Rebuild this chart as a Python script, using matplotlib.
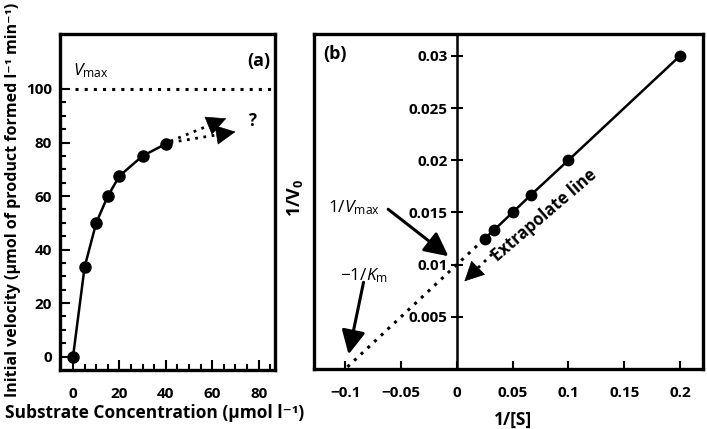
import matplotlib
matplotlib.use("Agg")
import matplotlib.pyplot as plt
from matplotlib.ticker import FixedLocator
from matplotlib.lines import Line2D

plt.rcParams['font.family'] = ['Open Sans', 'DejaVu Sans']
plt.rcParams['mathtext.fontset'] = 'custom'
plt.rcParams['mathtext.rm'] = 'Open Sans'
plt.rcParams['mathtext.it'] = 'Open Sans:italic'
plt.rcParams['mathtext.bf'] = 'Open Sans:bold'

# (a) Michaelis-Menten data
substrate = [0, 5, 10, 15, 20, 30, 40]
velocity = [0, 33.5, 50, 60, 67.5, 75, 79.5]
vmax = 100

# (b) Lineweaver-Burk data
inv_s = [0.025, 0.0333, 0.05, 0.0667, 0.1, 0.2]
inv_v = [0.0125, 0.0133, 0.015, 0.0167, 0.02, 0.03]
extrap_x = [-0.098, 0.025]
extrap_y = [0.0002, 0.0125]

DOT = (0, (1, 2))


def dotted_arrow(ax, start, end, frac=0.8):
    # dotted shaft + solid filled head
    mid = (start[0] + frac * (end[0] - start[0]), start[1] + frac * (end[1] - start[1]))
    ax.plot([start[0], mid[0]], [start[1], mid[1]], color='k', lw=2, linestyle=DOT)
    ax.annotate('', xy=end, xytext=mid,
                arrowprops=dict(arrowstyle='-|>,head_length=0.6,head_width=0.3',
                                color='k', lw=0.5, mutation_scale=22,
                                shrinkA=0, shrinkB=0))


def solid_arrow(ax, start, end):
    ax.annotate('', xy=end, xytext=start,
                arrowprops=dict(arrowstyle='-|>,head_length=0.6,head_width=0.3',
                                color='k', lw=2.2, mutation_scale=24,
                                shrinkA=0, shrinkB=0))


fig = plt.figure(figsize=(7.07, 4.29), dpi=100)

# ---------- panel (a)
ax1 = fig.add_axes([0.0849, 0.1375, 0.304, 0.783])
ax1.plot(substrate, velocity, color='k', lw=1.8, marker='o', markersize=8, zorder=3)
ax1.plot([0.9, 87], [vmax, vmax], color='k', lw=2.2, linestyle=DOT)
dotted_arrow(ax1, (42, 80.5), (66, 89))
dotted_arrow(ax1, (42, 80), (70, 84))
ax1.text(77.5, 88, '?', fontsize=12, fontweight='bold', ha='center', va='center')
ax1.text(0, 103.5, r'$V_{\mathrm{max}}$', fontsize=12.5, ha='left', va='bottom')
ax1.text(80, 110.5, '(a)', fontsize=13, fontweight='bold', ha='center', va='center')

ax1.set_xlim(-5.6, 87)
ax1.set_ylim(-5, 120.5)
ax1.xaxis.set_major_locator(FixedLocator([0, 20, 40, 60, 80]))
ax1.xaxis.set_minor_locator(FixedLocator(list(range(0, 90, 5))))
ax1.yaxis.set_major_locator(FixedLocator([0, 20, 40, 60, 80, 100]))
ax1.yaxis.set_minor_locator(FixedLocator(list(range(0, 105, 5))))
ax1.tick_params(which='major', direction='in', length=7, width=1.5, labelsize=11)
ax1.tick_params(axis='x', which='major', pad=12)
ax1.tick_params(axis='y', which='major', pad=6)
ax1.tick_params(which='minor', direction='in', length=4.5, width=1.5)
for lab in ax1.get_xticklabels() + ax1.get_yticklabels():
    lab.set_fontweight('bold')
for sp in ax1.spines.values():
    sp.set_linewidth(2.4)
fig.text(13 / 707, 1 - 200 / 429, 'Initial velocity (μmol of product formed l⁻¹ min⁻¹)',
         fontsize=11.5, fontweight='bold', rotation=90, ha='center', va='center')
fig.text(155 / 707, 1 - 413 / 429, 'Substrate Concentration (μmol l⁻¹)',
         fontsize=12.5, fontweight='bold', ha='center', va='center')

# ---------- panel (b)
ax2 = fig.add_axes([0.4441, 0.1399, 0.5502, 0.781])
ax2.plot(extrap_x, extrap_y, color='k', lw=2.2, linestyle=DOT)
ax2.plot(inv_s, inv_v, color='k', lw=1.8, marker='o', markersize=7.5, zorder=3)

solid_arrow(ax2, (-0.0615, 0.0153), (-0.0075, 0.0108))
ax2.text(-0.0925, 0.0155, r'$1/V_{\mathrm{max}}$', fontsize=12.5, ha='center', va='center')
solid_arrow(ax2, (-0.0836, 0.0083), (-0.097, 0.0014))
ax2.text(-0.0835, 0.0089, r'$-1/K_{\mathrm{m}}$', fontsize=12.5, ha='center', va='center')
dotted_arrow(ax2, (0.0315, 0.011), (0.0068, 0.0084), frac=0.7)
ax2.text(0.0785, 0.0147, 'Extrapolate line', fontsize=12, fontweight='bold',
         rotation=40.5, ha='center', va='center', rotation_mode='anchor')
ax2.text(-0.12, 0.0302, '(b)', fontsize=13, fontweight='bold', ha='left', va='center')

ax2.set_xlim(-0.128, 0.2206)
ax2.set_ylim(0, 0.0321)
ax2.set_xticks([-0.1, -0.05, 0, 0.05, 0.1, 0.15, 0.2])
ax2.set_xticklabels(['−0.1', '−0.05', '0', '0.05', '0.1', '0.15', '0.2'])
ax2.set_yticks([0.005, 0.01, 0.015, 0.02, 0.025, 0.03])
ax2.set_yticklabels(['0.005', '0.01', '0.015', '0.02', '0.025', '0.03'])
ax2.spines['left'].set_position(('data', 0))
ax2.spines['left'].set_linewidth(1.8)
for side in ['top', 'right', 'bottom']:
    ax2.spines[side].set_linewidth(2.4)
ax2.add_line(Line2D([0, 0], [0, 1], transform=ax2.transAxes, color='k', lw=2.4,
                    clip_on=False, solid_capstyle='projecting'))
ax2.tick_params(axis='x', direction='in', length=6, width=1.5, labelsize=11, pad=12)
ax2.tick_params(axis='y', direction='inout', length=9, width=1.5, labelsize=11, pad=2)
for lab in ax2.get_xticklabels() + ax2.get_yticklabels():
    lab.set_fontweight('bold')
fig.text(295 / 707, 1 - 198 / 429, r'$\mathbf{1/V_0}$', fontsize=13, rotation=90,
         ha='center', va='center')
fig.text(513 / 707, 1 - 420 / 429, '1/[S]', fontsize=12.5, fontweight='bold',
         ha='center', va='center')

fig.savefig('out.png', dpi=100)
